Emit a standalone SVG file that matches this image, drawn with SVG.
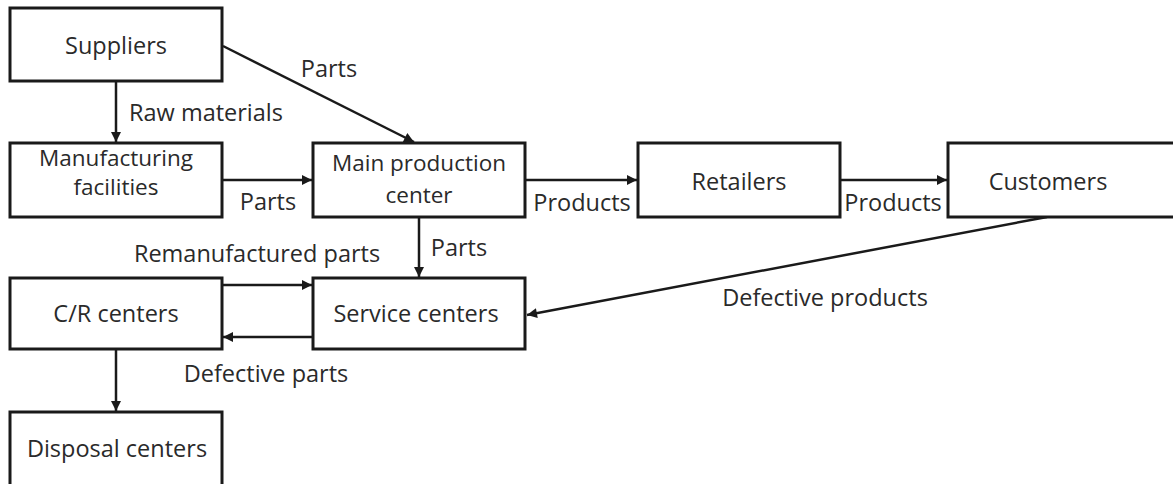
<svg xmlns="http://www.w3.org/2000/svg" width="1173" height="484" viewBox="0 0 1173 484">
<defs>
<style>
.box{fill:#fff;stroke:#1a1a1a;stroke-width:3}
.t{font-family:"Open Sans","Noto Sans",sans-serif;font-size:23.5px;fill:#2a2a2a;text-anchor:middle}
.t2{font-size:22.5px}
.e{stroke:#1a1a1a;stroke-width:2.5;fill:none;marker-end:url(#ah)}
</style>
<marker id="ah" viewBox="0 0 10 10" refX="10" refY="5" markerWidth="4.4" markerHeight="4" orient="auto" markerUnits="strokeWidth">
<path d="M0,0 L10,5 L0,10 z" fill="#1a1a1a"/>
</marker>
</defs>
<rect width="1173" height="484" fill="#fff"/>
<g id="connectors">
<line class="e" x1="116" y1="81" x2="116" y2="142"/>
<line class="e" x1="223" y1="46" x2="414" y2="142"/>
<line class="e" x1="222" y1="180" x2="312" y2="180"/>
<line class="e" x1="419" y1="217" x2="419" y2="277"/>
<line class="e" x1="525" y1="180" x2="637" y2="180"/>
<line class="e" x1="840" y1="180" x2="947" y2="180"/>
<line class="e" x1="1047" y1="217" x2="527" y2="315"/>
<line class="e" x1="222" y1="285" x2="312" y2="285"/>
<line class="e" x1="313" y1="337" x2="223" y2="337"/>
<line class="e" x1="116" y1="349" x2="116" y2="411"/>
<text class="t" x="206" y="121">Raw materials</text>
<text class="t" x="329" y="77">Parts</text>
<text class="t" x="268" y="210">Parts</text>
<text class="t" x="459" y="256">Parts</text>
<text class="t" x="582" y="211">Products</text>
<text class="t" x="893" y="211">Products</text>
<text class="t" x="825" y="306">Defective products</text>
<text class="t" x="257" y="262">Remanufactured parts</text>
<text class="t" x="266" y="382">Defective parts</text>
</g>
<g id="suppliers"><rect class="box" x="10" y="8" width="212" height="73"/><text class="t" x="116" y="54">Suppliers</text></g>
<g id="manufacturing"><rect class="box" x="10" y="143" width="212" height="74"/><text class="t t2" x="116" y="166">Manufacturing</text><text class="t t2" x="116" y="195">facilities</text></g>
<g id="main"><rect class="box" x="313" y="143" width="212" height="74"/><text class="t t2" x="419" y="171">Main production</text><text class="t t2" x="419" y="203">center</text></g>
<g id="retailers"><rect class="box" x="638" y="143" width="202" height="74"/><text class="t" x="739" y="190">Retailers</text></g>
<g id="customers"><rect class="box" x="948" y="143" width="240" height="74"/><text class="t" x="1048" y="190">Customers</text></g>
<g id="cr"><rect class="box" x="10" y="278" width="212" height="71"/><text class="t" x="116" y="322">C/R centers</text></g>
<g id="service"><rect class="box" x="313" y="278" width="212" height="71"/><text class="t" x="416" y="322">Service centers</text></g>
<g id="disposal"><rect class="box" x="10" y="412" width="212" height="80"/><text class="t" x="117" y="457">Disposal centers</text></g>
</svg>
